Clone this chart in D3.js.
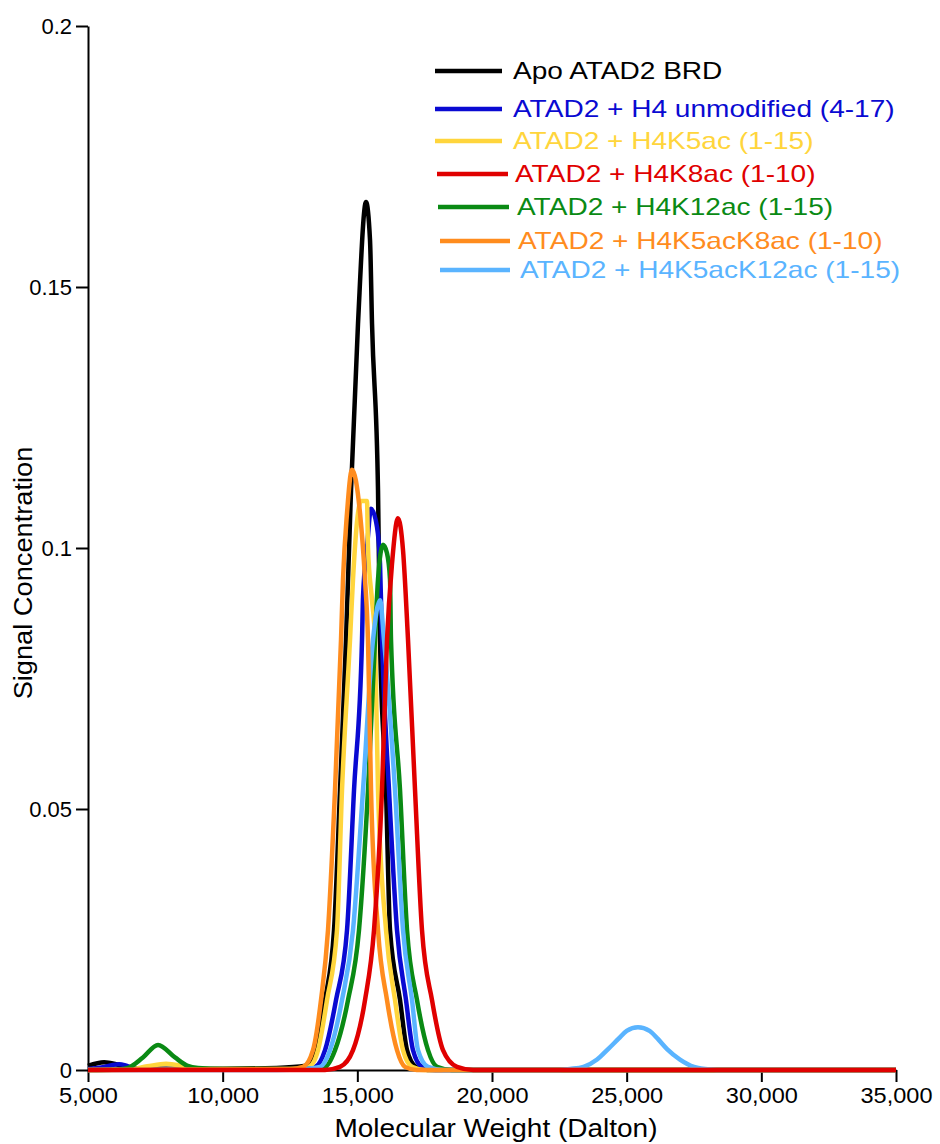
<!DOCTYPE html>
<html>
<head>
<meta charset="utf-8">
<script src="https://cdn.jsdelivr.net/npm/d3@7/dist/d3.min.js"></script>
<style>
  html, body { margin: 0; padding: 0; background: #fff; }
  svg { display: block; font-family: "Liberation Sans", Arial, Helvetica, sans-serif; }
</style>
</head>
<body>
<svg id="chart" width="940" height="1144"></svg>
<script>
// [molecular weight (Da), signal concentration]
const apoBRD = [
  [5000, 0.0008], [5600, 0.0015], [6200, 0.0009], [6800, 0.0003], [9000, 0.0002], [12000, 0.0004],
  [13100, 0.0008], [13466, 0.0038], [13800, 0.0134], [14134, 0.0268], [14357, 0.0536], [14580, 0.0824],
  [14765, 0.111], [15025, 0.143], [15322, 0.1663], [15471, 0.159], [15545, 0.143], [15768, 0.111],
  [15842, 0.0824], [16065, 0.0536], [16213, 0.0268], [16585, 0.0134], [16845, 0.0038], [17178, 0.0006],
  [17600, 0], [35000, 0]
];
const h4Unmodified = [
  [5000, 0.0002], [5600, 0.0006], [6150, 0.0011], [6500, 0.0007], [6900, 0.0002], [8000, 0.0001],
  [12800, 0.0002], [13430, 0.0006], [13800, 0.0038], [14208, 0.0134], [14617, 0.0268], [14877, 0.0536],
  [15174, 0.0824], [15211, 0.0906], [15359, 0.1], [15508, 0.1075], [15731, 0.104], [15842, 0.097],
  [15916, 0.0824], [16176, 0.0536], [16473, 0.0268], [16807, 0.0134], [17067, 0.0038], [17401, 0.0006],
  [17900, 0], [35000, 0]
];
const h4K5ac = [
  [5000, 0], [6500, 0.0001], [7200, 0.0007], [7900, 0.0012], [8600, 0.0007], [9200, 0.0002],
  [12600, 0.0002], [13206, 0.0006], [13540, 0.0038], [13874, 0.0134], [14245, 0.0268], [14431, 0.0536],
  [14728, 0.0824], [14839, 0.094], [15025, 0.1067], [15136, 0.109], [15359, 0.109], [15396, 0.1],
  [15545, 0.09], [15656, 0.0824], [15768, 0.0536], [16065, 0.0268], [16399, 0.0134], [16696, 0.0038],
  [17030, 0.0006], [17500, 0], [35000, 0]
];
const h4K8ac = [
  [5000, 0], [13800, 0], [14357, 0.0006], [14839, 0.0038], [15285, 0.0134], [15619, 0.0268],
  [15916, 0.0536], [16102, 0.0824], [16288, 0.097], [16510, 0.1057], [16696, 0.0996], [16882, 0.0824],
  [17142, 0.0536], [17401, 0.0268], [17773, 0.0134], [18181, 0.0038], [18701, 0.0006], [19300, 0],
  [35000, 0]
];
const h4K12ac = [
  [5000, 0], [6100, 0.0001], [6485, 0.0004], [7040, 0.0024], [7600, 0.0048], [8230, 0.0024],
  [8700, 0.0008], [9085, 0.0004], [10000, 0.0002], [12900, 0.0002], [13800, 0.0006], [14171, 0.0038],
  [14654, 0.0134], [15062, 0.0268], [15396, 0.0536], [15656, 0.0824], [15768, 0.094], [15953, 0.1006],
  [16102, 0.099], [16213, 0.094], [16250, 0.0824], [16585, 0.0536], [16845, 0.0268], [17216, 0.0134],
  [17624, 0.0038], [17958, 0.0006], [18500, 0], [35000, 0]
];
const h4K5acK8ac = [
  [5000, 0], [12500, 0.0002], [12983, 0.0006], [13354, 0.0038], [13651, 0.0134], [13911, 0.0268],
  [14171, 0.0536], [14394, 0.0824], [14468, 0.094], [14617, 0.1067], [14802, 0.115], [15099, 0.1067],
  [15285, 0.094], [15396, 0.0824], [15508, 0.0536], [15768, 0.0268], [16102, 0.0134], [16473, 0.0038],
  [16770, 0.0006], [17200, 0], [35000, 0]
];
const h4K5acK12ac = [
  [5000, 0], [12000, 0], [13000, 0.0002], [13614, 0.0006], [13985, 0.0038], [14431, 0.0134],
  [14839, 0.0268], [15211, 0.0536], [15582, 0.0824], [15842, 0.09], [15990, 0.0824], [16399, 0.0536],
  [16696, 0.0268], [17030, 0.0134], [17253, 0.0038], [17624, 0.0006], [18200, 0], [22500, 0],
  [22900, 0.0002], [23400, 0.0006], [23900, 0.002], [24310, 0.004], [24700, 0.006], [25000, 0.0075],
  [25420, 0.0082], [25850, 0.0075], [26150, 0.006], [26500, 0.004], [26980, 0.002], [27500, 0.0006],
  [28100, 0.0001], [28600, 0], [35000, 0]
];

const seriesLabels = [
  'Apo ATAD2 BRD',
  'ATAD2 + H4 unmodified (4-17)',
  'ATAD2 + H4K5ac (1-15)',
  'ATAD2 + H4K8ac (1-10)',
  'ATAD2 + H4K12ac (1-15)',
  'ATAD2 + H4K5acK8ac (1-10)',
  'ATAD2 + H4K5acK12ac (1-15)'
];
const seriesData = [apoBRD, h4Unmodified, h4K5ac, h4K8ac, h4K12ac, h4K5acK8ac, h4K5acK12ac];

const xTicks = [5000, 10000, 15000, 20000, 25000, 30000, 35000];
const yTicks = [0, 0.05, 0.1, 0.15, 0.2];
const yTickLabels = ['0', '0.05', '0.1', '0.15', '0.2'];

// styles / layout
const COLORS = ['#000000', '#0a0ad2', '#ffd53c', '#e00000', '#0a8a14', '#ff8c1e', '#5ab4ff'];
const DRAW_ORDER = [0, 1, 2, 4, 6, 5, 3];
const LEGEND_ROWS = [
  { y: 71, x1: 435, x2: 502, tx: 513 },
  { y: 109, x1: 435, x2: 502, tx: 513 },
  { y: 141, x1: 435, x2: 502, tx: 513 },
  { y: 174, x1: 437, x2: 508, tx: 515 },
  { y: 207, x1: 438, x2: 509, tx: 517 },
  { y: 241, x1: 440, x2: 510, tx: 518 },
  { y: 270, x1: 440, x2: 510, tx: 520 }
];

const svg = d3.select('#chart');

const x = d3.scaleLinear().domain([5000, 35000]).range([88, 896]);
const y = d3.scaleLinear().domain([0, 0.2]).range([1070, 26]);

// axes
const xAxis = svg.append('g')
  .attr('transform', 'translate(0,1070)')
  .call(d3.axisBottom(x).tickValues(xTicks).tickFormat(d3.format(',')).tickSize(12).tickSizeOuter(0).tickPadding(5));

const yAxis = svg.append('g')
  .attr('transform', 'translate(88,0)')
  .call(d3.axisLeft(y).tickValues(yTicks).tickFormat((d, i) => yTickLabels[i]).tickSize(12).tickSizeOuter(0).tickPadding(4));

[xAxis, yAxis].forEach(g => {
  g.selectAll('path, line').attr('stroke', '#000').attr('stroke-width', 2);
  g.selectAll('text')
    .attr('fill', '#000')
    .style('font-size', '22px')
    .style('font-family', '"Liberation Sans", Arial, Helvetica, sans-serif');
});
xAxis.selectAll('text').attr('transform', 'scale(1.07,1)');

// axis titles
svg.append('text')
  .attr('transform', 'translate(496,1137) scale(1.12,1)')
  .attr('text-anchor', 'middle')
  .style('font-size', '25px')
  .text('Molecular Weight (Dalton)');

svg.append('text')
  .attr('transform', 'translate(32,573) rotate(-90) scale(1.09,1)')
  .attr('text-anchor', 'middle')
  .style('font-size', '25px')
  .text('Signal Concentration');

// lines
const line = d3.line()
  .x(d => x(d[0]))
  .y(d => y(d[1]))
  .curve(d3.curveMonotoneX);

svg.append('g')
  .selectAll('path')
  .data(DRAW_ORDER)
  .enter()
  .append('path')
  .attr('d', i => line(seriesData[i]))
  .attr('fill', 'none')
  .attr('stroke', i => COLORS[i])
  .attr('stroke-width', 4.5)
  .attr('stroke-linejoin', 'round');

// legend
const legend = svg.append('g');
const rows = legend.selectAll('g').data(seriesLabels).enter().append('g');

rows.append('line')
  .attr('x1', (d, i) => LEGEND_ROWS[i].x1)
  .attr('x2', (d, i) => LEGEND_ROWS[i].x2)
  .attr('y1', (d, i) => LEGEND_ROWS[i].y)
  .attr('y2', (d, i) => LEGEND_ROWS[i].y)
  .attr('stroke', (d, i) => COLORS[i])
  .attr('stroke-width', 4.5);

rows.append('text')
  .attr('transform', (d, i) => `translate(${LEGEND_ROWS[i].tx},${LEGEND_ROWS[i].y + 8}) scale(1.22,1)`)
  .style('font-size', '23px')
  .attr('fill', (d, i) => COLORS[i])
  .text(d => d);
</script>
</body>
</html>
